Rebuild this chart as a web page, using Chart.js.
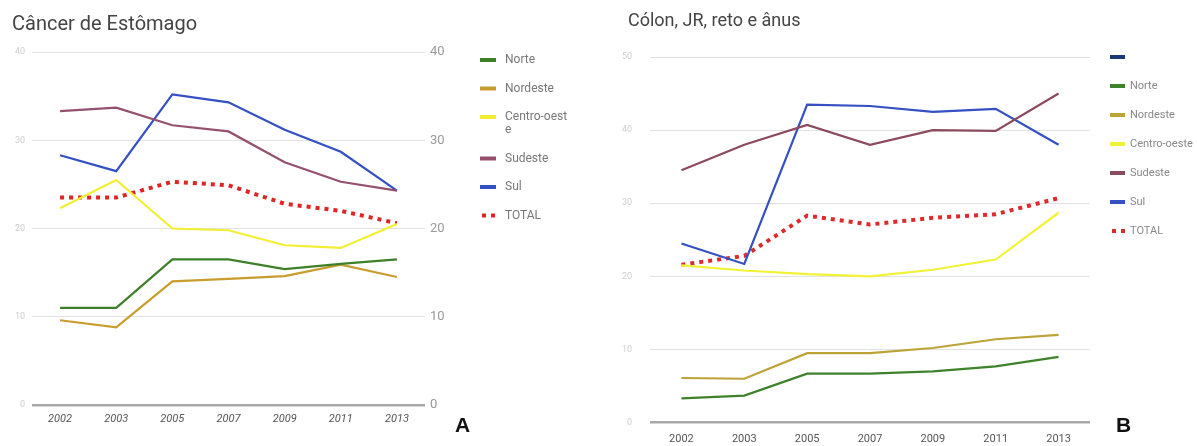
<!DOCTYPE html>
<html><head><meta charset="utf-8">
<script src="https://cdn.jsdelivr.net/npm/chart.js@4.4.0/dist/chart.umd.min.js"></script>
<style>
html,body{margin:0;padding:0;background:#fff;}
body{width:1197px;height:446px;position:relative;overflow:hidden;font-family:Roboto,sans-serif;}
.box{position:absolute;top:0;height:446px;}
#wa{left:0;width:600px;}
#wb{left:600px;width:597px;}
.title{position:absolute;color:#444;white-space:nowrap;font-family:Roboto,sans-serif;}
.tag{position:absolute;font-family:'Liberation Sans',Arial,sans-serif;font-weight:bold;font-size:21px;color:#111;}
</style></head><body>
<div class="box" id="wa"><canvas id="ca"></canvas></div>
<div class="box" id="wb"><canvas id="cb"></canvas></div>
<div class="title" style="left:12px;top:11px;font-size:20px;">Câncer de Estômago</div>
<div class="title" style="left:628px;top:9px;font-size:18px;">Cólon, JR, reto e ânus</div>
<div class="tag" style="left:455px;top:413px;">A</div>
<div class="tag" style="left:1116px;top:413px;">B</div>
<script>
// ---- data ----
const years = ['2002', '2003', '2005', '2007', '2009', '2011', '2013'];
const yTicksA = [0, 10, 20, 30, 40];
const yTicksB = [0, 10, 20, 30, 40, 50];

// A: Câncer de Estômago
const estNorte = [11.0, 11.0, 16.5, 16.5, 15.4, 16.0, 16.5];
const estNordeste = [9.6, 8.8, 14.0, 14.3, 14.6, 15.9, 14.5];
const estCentroOeste = [22.3, 25.5, 20.0, 19.8, 18.1, 17.8, 20.5];
const estSudeste = [33.3, 33.7, 31.7, 31.0, 27.5, 25.3, 24.3];
const estSul = [28.3, 26.5, 35.2, 34.3, 31.2, 28.7, 24.3];
const estTotal = [23.5, 23.5, 25.3, 24.9, 22.8, 22.0, 20.6];

// B: Cólon, JR, reto e ânus
const colBlank = [];
const colNorte = [3.3, 3.7, 6.7, 6.7, 7.0, 7.7, 9.0];
const colNordeste = [6.1, 6.0, 9.5, 9.5, 10.2, 11.4, 12.0];
const colCentroOeste = [21.5, 20.8, 20.3, 20.0, 20.9, 22.3, 28.7];
const colSudeste = [34.5, 38.0, 40.7, 38.0, 40.0, 39.9, 45.0];
const colSul = [24.5, 21.7, 43.5, 43.3, 42.5, 42.9, 38.0];
const colTotal = [21.6, 22.8, 28.3, 27.1, 28.0, 28.5, 30.7];

// ---- legend plugin ----
function wrapText(ctx, text, maxW) {
  if (ctx.measureText(text).width <= maxW) return [text];
  const lines = []; let cur = '';
  for (const ch of text) {
    if (ctx.measureText(cur + ch).width > maxW && cur) { lines.push(cur); cur = ch; }
    else cur += ch;
  }
  if (cur) lines.push(cur);
  return lines;
}
const sideLegend = {
  id: 'sideLegend',
  afterDraw(chart, args, o) {
    const ctx = chart.ctx;
    ctx.save();
    ctx.font = o.font;
    ctx.textBaseline = 'middle';
    ctx.textAlign = 'left';
    let y = o.y;
    chart.data.datasets.forEach(ds => {
      const x = o.x;
      ctx.fillStyle = ds.borderColor;
      if (ds.borderDash && ds.borderDash.length) {
        ctx.fillRect(x + 2, y - 2, 4, 4);
        ctx.fillRect(x + 11, y - 2, 4, 4);
      } else {
        ctx.fillRect(x, y - 2, o.boxWidth, 4);
      }
      const lines = ds.label ? wrapText(ctx, ds.label, o.maxWidth) : [];
      ctx.fillStyle = o.color;
      lines.forEach((ln, i) => ctx.fillText(ln, x + o.textGap, y + i * o.lineHeight));
      y += o.row + Math.max(0, lines.length - 1) * o.lineHeight;
    });
    ctx.restore();
  }
};

function line(label, data, color, dotted) {
  return {
    label, data, borderColor: color, backgroundColor: color,
    borderWidth: dotted ? 4 : 2.2,
    borderDash: dotted ? [4, 5] : [],
    borderCapStyle: 'butt',
    pointRadius: 0, pointHoverRadius: 0, tension: 0, fill: false
  };
}

function gridColor(c) { return c.tick && c.tick.value === 0 ? '#a8a8a8' : '#e2e2e2'; }
function gridWidth(c) { return c.tick && c.tick.value === 0 ? 2.5 : 1; }

// ---- chart A ----
new Chart(document.getElementById('ca'), {
  type: 'line',
  data: {
    labels: years,
    datasets: [
      line('Norte', estNorte, '#3e802a'),
      line('Nordeste', estNordeste, '#c99c2e'),
      line('Centro-oeste', estCentroOeste, '#f2ef30'),
      line('Sudeste', estSudeste, '#94506e'),
      line('Sul', estSul, '#3450c2'),
      line('TOTAL', estTotal, '#de2424', true)
    ]
  },
  plugins: [sideLegend],
  options: {
    responsive: true, maintainAspectRatio: false, animation: false,
    layout: { padding: { top: 52, right: 130, left: 0, bottom: 0 } },
    plugins: {
      legend: { display: false }, tooltip: { enabled: false },
      sideLegend: { x: 480, y: 60, row: 28.5, lineHeight: 13, boxWidth: 16, textGap: 25,
        maxWidth: 66, font: '12px Roboto, sans-serif', color: '#777' }
    },
    scales: {
      x: {
        offset: true,
        grid: { display: false }, border: { display: false },
        ticks: { color: '#555', font: { family: 'Roboto, sans-serif', size: 11, style: 'italic' }, padding: 0, maxRotation: 0 },
        afterFit: s => { s.height = 41; }
      },
      y: {
        min: 0, max: 40, position: 'left',
        afterBuildTicks: s => { s.ticks = yTicksA.map(v => ({ value: v })); },
        grid: { color: gridColor, lineWidth: gridWidth, drawTicks: false }, border: { display: false },
        ticks: { color: '#cfcfcf', font: { family: 'Roboto, sans-serif', size: 9 }, padding: 7 },
        afterFit: s => { s.width = 32; }
      },
      y1: {
        min: 0, max: 40, position: 'right',
        afterBuildTicks: s => { s.ticks = yTicksA.map(v => ({ value: v })); },
        grid: { display: false, drawTicks: false }, border: { display: false },
        ticks: { color: '#999', font: { family: 'Roboto, sans-serif', size: 13 }, padding: 5 },
        afterFit: s => { s.width = 45; }
      }
    }
  }
});

// ---- chart B ----
new Chart(document.getElementById('cb'), {
  type: 'line',
  data: {
    labels: years,
    datasets: [
      line('', colBlank, '#1c3a78'),
      line('Norte', colNorte, '#3e822c'),
      line('Nordeste', colNordeste, '#bca336'),
      line('Centro-oeste', colCentroOeste, '#f2f236'),
      line('Sudeste', colSudeste, '#8c4a5e'),
      line('Sul', colSul, '#3450c2'),
      line('TOTAL', colTotal, '#de2a2a', true)
    ]
  },
  plugins: [sideLegend],
  options: {
    responsive: true, maintainAspectRatio: false, animation: false,
    layout: { padding: { top: 57, right: 107, left: 0, bottom: 0 } },
    plugins: {
      legend: { display: false }, tooltip: { enabled: false },
      sideLegend: { x: 510, y: 57, row: 29, lineHeight: 13, boxWidth: 15, textGap: 20,
        maxWidth: 200, font: '11px Roboto, sans-serif', color: '#888' }
    },
    scales: {
      x: {
        offset: true,
        grid: { display: false }, border: { display: false },
        ticks: { color: '#555', font: { family: 'Roboto, sans-serif', size: 11 }, padding: 2, maxRotation: 0 },
        afterFit: s => { s.height = 23; }
      },
      y: {
        min: 0, max: 50, position: 'left',
        afterBuildTicks: s => { s.ticks = yTicksB.map(v => ({ value: v })); },
        grid: { color: gridColor, lineWidth: gridWidth, drawTicks: false }, border: { display: false },
        ticks: { color: '#cfcfcf', font: { family: 'Roboto, sans-serif', size: 9 }, padding: 18 },
        afterFit: s => { s.width = 50; }
      }
    }
  }
});
</script>
</body></html>
